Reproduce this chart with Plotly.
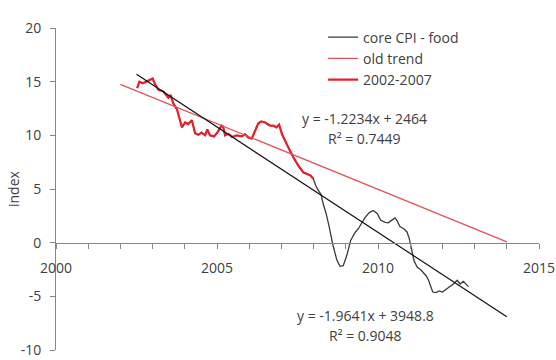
import numpy as np
import plotly.graph_objects as go

# core CPI minus food, decimal years and index values
years = [
    2002.52, 2002.59, 2002.70, 2002.86, 2003.00, 2003.07, 2003.18, 2003.33, 2003.42, 2003.49,
    2003.56, 2003.64, 2003.76, 2003.85, 2003.91, 2004.01, 2004.11, 2004.22, 2004.32, 2004.42,
    2004.52, 2004.63, 2004.70, 2004.78, 2004.91, 2005.02, 2005.14, 2005.19, 2005.25, 2005.35,
    2005.47, 2005.61, 2005.77, 2005.87, 2005.97, 2006.08, 2006.18, 2006.28, 2006.37, 2006.49,
    2006.65, 2006.75, 2006.85, 2006.93, 2007.02, 2007.11, 2007.21, 2007.37, 2007.52, 2007.68,
    2007.80, 2007.91, 2007.99, 2008.07, 2008.15, 2008.23, 2008.30, 2008.39, 2008.49, 2008.59,
    2008.72, 2008.82, 2008.92, 2009.03, 2009.15, 2009.29, 2009.39, 2009.49, 2009.60, 2009.73,
    2009.85, 2009.98, 2010.08, 2010.22, 2010.32, 2010.43, 2010.53, 2010.60, 2010.68, 2010.80,
    2010.90, 2010.97, 2011.04, 2011.12, 2011.22, 2011.32, 2011.41, 2011.50, 2011.57, 2011.63,
    2011.70, 2011.80, 2011.90, 2012.00, 2012.10, 2012.24, 2012.34, 2012.46, 2012.55, 2012.65,
    2012.73, 2012.81,
]
values = [
    14.4, 15.0, 14.85, 15.1, 15.3, 14.8, 14.25, 14.1, 13.7, 13.5,
    13.75, 13.0, 12.4, 11.5, 10.75, 11.2, 11.05, 11.4, 10.2, 10.05,
    10.25, 10.0, 10.55, 10.0, 9.9, 10.3, 10.9, 10.8, 10.0, 10.15,
    9.85, 10.0, 9.9, 10.1, 9.8, 9.7, 10.45, 11.1, 11.3, 11.2,
    10.9, 10.9, 10.75, 11.0, 10.1, 9.5, 8.9, 7.95, 7.2, 6.55,
    6.4, 6.25, 5.95, 5.3, 4.85, 4.5, 3.6, 2.7, 1.4, -0.1,
    -1.6, -2.2, -2.15, -1.2, 0.2, 0.95, 1.3, 1.75, 2.35, 2.8,
    3.0, 2.7, 2.1, 1.9, 1.85, 2.1, 2.3, 2.0, 1.5, 1.3,
    1.0, 0.4, -0.6, -1.7, -2.3, -2.5, -2.8, -3.1, -3.5, -4.1,
    -4.6, -4.65, -4.5, -4.6, -4.4, -4.1, -3.85, -3.5, -3.85, -3.6,
    -3.85, -4.1,
]

# linear trend coefficients: slope, intercept, R^2
old_trend = [-1.2234, 2464, 0.7449]
core_trend = [-1.9641, 3948.8, 0.9048]
old_trend_span = [2002.0, 2014.0]
core_trend_span = [2002.5, 2014.0]

y_ticks = [-10, -5, 0, 5, 10, 15, 20]

yrs = np.array(years)
vals = np.array(values)
sub = yrs < 2008.0

FONT = "Open Sans"
TXT = "#404040"
AX = "#868686"

fig = go.Figure()

fig.add_trace(go.Scatter(
    x=yrs, y=vals, mode="lines", name="core CPI - food",
    line=dict(color="#3a3a3a", width=1.3), legendrank=1,
))
fig.add_trace(go.Scatter(
    x=yrs[sub], y=vals[sub], mode="lines", name="2002-2007",
    line=dict(color="#e4202c", width=2.2), legendrank=3,
))


def trend(coef, span):
    xs = np.array(span)
    return xs, coef[0] * xs + coef[1]


tx, ty = trend(old_trend, old_trend_span)
fig.add_trace(go.Scatter(
    x=tx, y=ty, mode="lines", name="old trend",
    line=dict(color="#e3525a", width=1.3), legendrank=2,
))
cx, cy = trend(core_trend, core_trend_span)
fig.add_trace(go.Scatter(
    x=cx, y=cy, mode="lines", name="core trend", showlegend=False,
    line=dict(color="#111111", width=1.2),
))


def eq_text(coef):
    sign = "+" if coef[1] >= 0 else "-"
    return f"y = {coef[0]:g}x {sign} {abs(coef[1]):g}", f"R² = {coef[2]:.4f}"


for coef, xc, y1, y2 in [(old_trend, 2009.57, 11.56, 9.7), (core_trend, 2009.6, -6.8, -8.67)]:
    l1, l2 = eq_text(coef)
    fig.add_annotation(x=xc, y=y1, text=l1, showarrow=False,
                       font=dict(family=FONT, size=14, color=TXT))
    fig.add_annotation(x=xc, y=y2, text=l2, showarrow=False,
                       font=dict(family=FONT, size=14, color=TXT))

fig.add_annotation(xref="paper", yref="paper", x=-0.089, y=0.5, text="index",
                   textangle=-90, showarrow=False, xanchor="center", yanchor="middle",
                   font=dict(family=FONT, size=14, color=TXT))

fig.update_layout(
    width=556, height=360,
    margin=dict(l=56, r=17, t=28, b=10, autoexpand=False),
    paper_bgcolor="white", plot_bgcolor="white",
    font=dict(family=FONT, size=14, color=TXT),
    legend=dict(x=0.553, y=1.02, xanchor="left", yanchor="top",
                bgcolor="rgba(0,0,0,0)", font=dict(size=14, color=TXT),
                tracegroupgap=0),
    xaxis=dict(
        range=[2000, 2015], tickmode="linear", tick0=2000, dtick=5,
        showgrid=False, zeroline=False, automargin=False,
        showline=True, linecolor=AX, linewidth=1,
        ticks="outside", ticklen=5, tickcolor=AX,
        minor=dict(tickmode="linear", tick0=2000, dtick=1, ticks="outside",
                   ticklen=5, tickcolor=AX),
        anchor="free", position=1 / 3, ticklabelstandoff=8,
    ),
    yaxis=dict(
        range=[-10, 20], tickvals=y_ticks, ticktext=[str(v) for v in y_ticks],
        showgrid=False, zeroline=False, automargin=False,
        showline=True, linecolor=AX, linewidth=1,
        ticks="outside", ticklen=5, tickcolor=AX, ticklabelstandoff=6,
    ),
)

fig.write_html("out.html")
